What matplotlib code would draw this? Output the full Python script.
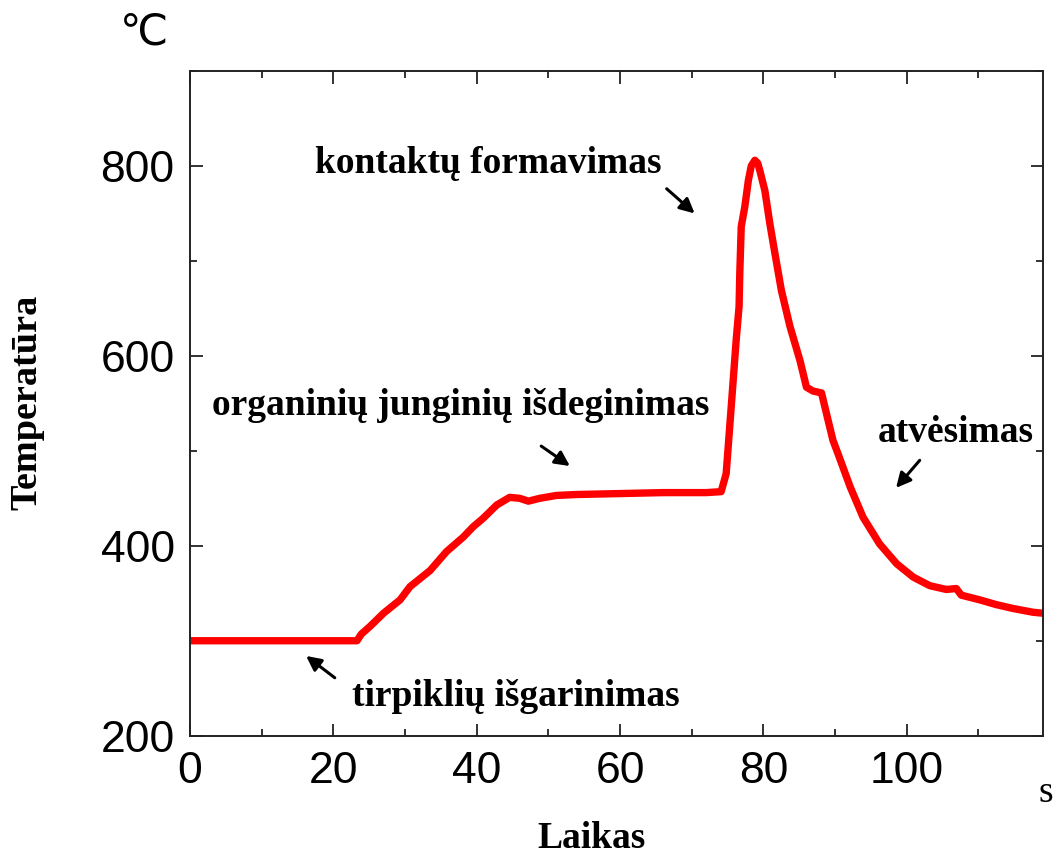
import matplotlib
matplotlib.use("Agg")
import matplotlib.pyplot as plt
from matplotlib.ticker import MultipleLocator

# Data
time_s = [0, 10, 23.3, 23.9, 25.1, 27.0, 29.3, 30.7, 33.5, 35.8, 38.1, 39.5, 40.9,
          42.8, 44.6, 46.0, 47.2, 48.8, 51.1, 53.9, 60, 66, 72, 74.1,
          74.8, 75.5, 76.2, 76.6, 76.7, 76.9, 77.4, 77.9, 78.3, 78.8, 79.2, 79.5, 80.2,
          80.9, 81.6, 82.5, 83.7, 85.1, 86.0, 86.9, 88.1, 88.8, 89.7, 90.4,
          92.1, 93.9, 96.2, 98.6, 100.9, 103.2, 105.5, 106.9, 107.6, 110.2,
          112.5, 114.8, 117.6, 119]
temp_c = [300, 300, 300, 307, 315, 329, 343, 357, 374, 394, 409, 420, 429,
          443, 451, 450, 447, 450, 453, 454, 455, 456, 456, 457,
          476, 546, 617, 652, 687, 736, 757, 785, 800, 806, 803, 795, 774,
          739, 708, 669, 631, 595, 567, 563, 561, 539, 511, 497,
          462, 430, 402, 381, 367, 358, 354, 355, 348, 343,
          338, 334, 330, 329]

x_ticks = [0, 20, 40, 60, 80, 100]
y_ticks = [200, 400, 600, 800]

annotations = [
    ("kontaktų formavimas", (41.6, 803), (66.5, 776), (70.4, 750)),
    ("organinių junginių išdeginimas", (37.8, 548), (49.0, 505), (53.0, 484)),
    ("tirpiklių išgarinimas", (45.5, 241), (20.2, 261), (16.2, 284)),
    ("atvėsimas", (106.8, 519), (101.8, 490), (98.5, 461)),
]

W, H = 1055, 858
fig = plt.figure(figsize=(W / 100, H / 100), dpi=100)
ax = fig.add_axes([190 / W, 1 - 735.7 / H, (1043 - 190) / W, (735.7 - 71) / H])

ax.plot(time_s, temp_c, color="#ff0000", lw=5.3, solid_joinstyle="round",
        solid_capstyle="round")

ax.set_xlim(0, 119)
ax.set_ylim(200, 900)
ax.set_xticks(x_ticks)
ax.set_yticks(y_ticks)
ax.xaxis.set_minor_locator(MultipleLocator(10))
ax.yaxis.set_minor_locator(MultipleLocator(100))
ax.tick_params(which="both", direction="in", top=True, right=True,
               width=1.3, color="#222222")
ax.tick_params(which="major", length=9, labelsize=32, pad=11)
ax.tick_params(which="minor", length=5)
for lab in ax.get_xticklabels() + ax.get_yticklabels():
    lab.set_family("Liberation Sans")
for sp in ax.spines.values():
    sp.set_linewidth(1.4)
    sp.set_color("#222222")

serif_bold = dict(family="Liberation Serif", fontweight="bold")
for text, txy, tail, head in annotations:
    ax.text(txy[0], txy[1], text, ha="center", va="center", fontsize=27,
            **serif_bold)
    ax.annotate("", xy=head, xytext=tail,
                arrowprops=dict(arrowstyle="-|>", color="black", lw=2.2,
                                mutation_scale=22, shrinkA=0, shrinkB=0))

fig.text(27 / W, 1 - 402 / H, "Temperatūra", rotation=90, ha="center",
         va="center", fontsize=27.5, **serif_bold)
fig.text(591 / W, 1 - 838 / H, "Laikas", ha="center", va="center",
         fontsize=27, **serif_bold)
fig.text(1046 / W, 1 - 793 / H, "s", ha="center", va="center",
         fontsize=27, family="Liberation Serif")
fig.text(144 / W, 1 - 34 / H, "℃", ha="center", va="center", fontsize=31,
         family=["Liberation Sans", "DejaVu Sans"])

fig.savefig("out.png", dpi=100)
